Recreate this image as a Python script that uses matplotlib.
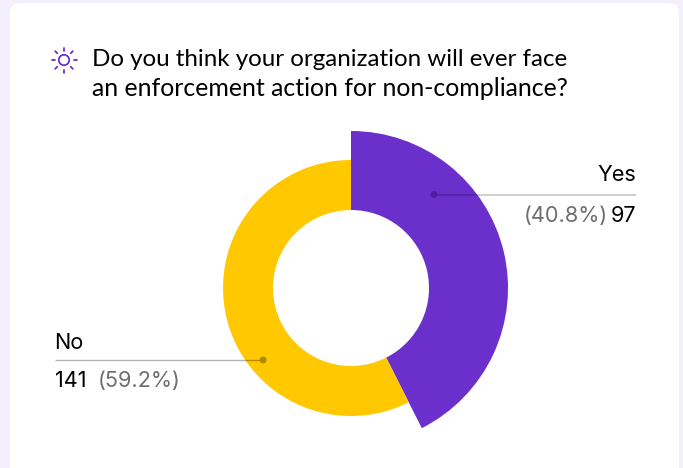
import matplotlib
matplotlib.use('Agg')
import matplotlib.pyplot as plt
from matplotlib.patches import FancyBboxPatch, Circle
import numpy as np

categories = ['Yes', 'No']
counts = [97, 141]
percent_labels = ['(40.8%)', '(59.2%)']
# share of the ring as it is drawn in the picture, in degrees
drawn_degrees = [153.2, 206.8]
colors = ['#6B2FCB', '#FFC800']
title_lines = ['Do you think your organization will ever face',
               'an enforcement action for non-compliance?']

W, H = 683, 468
fig = plt.figure(figsize=(W / 100, H / 100), dpi=100, facecolor='#F4EFFC')
ax = fig.add_axes([0, 0, 1, 1])

def Y(py):
    return H - py

# white card
card = FancyBboxPatch((10, -30), 669, Y(3) + 30, boxstyle='round,pad=0,rounding_size=10',
                      fc='white', ec='none', zorder=1)
ax.add_patch(card)

# ring, each slice has its own outer radius
cx, cy = 351, Y(288)
hole = 78
for i, radius in enumerate([157, 128]):
    face = ['none', 'none']
    face[i] = colors[i]
    wedges, _ = ax.pie(drawn_degrees, center=(cx, cy), radius=radius, startangle=90,
                       counterclock=False, colors=face,
                       wedgeprops=dict(width=radius - hole, linewidth=0))
    for w in wedges:
        w.set_zorder(2)
ax.set_aspect('auto')
ax.set_xlim(0, W)
ax.set_ylim(0, H)
ax.axis('off')

# leader lines
ax.plot([434, 636], [Y(194.5)] * 2, color='#000000', alpha=0.22, lw=1.2, zorder=3, solid_capstyle='butt')
ax.plot([263, 55], [Y(360)] * 2, color='#000000', alpha=0.3, lw=1.0, zorder=3, solid_capstyle='butt')
ax.add_patch(Circle((434, Y(194.5)), 3.5, fc='#4F1F9E', ec='none', zorder=4))
ax.add_patch(Circle((263, Y(360)), 3.5, fc='#B08A00', ec='none', zorder=4))

# labels
font = 'Inter'
size = 15.6
ax.text(636, Y(175), categories[0], ha='right', va='center', fontsize=size, family=font, color='black', zorder=5)
ax.text(636, Y(216), str(counts[0]), ha='right', va='center', fontsize=size, family=font, color='black', zorder=5)
ax.text(607.5, Y(216), percent_labels[0], ha='right', va='center', fontsize=size, family=font, color='#6E6E6E', zorder=5)
ax.text(54, Y(343), categories[1], ha='left', va='center', fontsize=size, family=font, color='black', zorder=5)
ax.text(55, Y(381), str(counts[1]), ha='left', va='center', fontsize=size, family=font, color='black', zorder=5)
ax.text(98, Y(381), percent_labels[1], ha='left', va='center', fontsize=size, family=font, color='#6E6E6E', zorder=5)

# title, sizes differ a bit because the original font is not installed
ax.text(92.5, Y(60), title_lines[0], ha='left', va='center', fontsize=17.4, family='Lato', color='black', zorder=5)
ax.text(92.5, Y(89), title_lines[1], ha='left', va='center', fontsize=17.95, family='Lato', color='black', zorder=5)

# sun icon
ix, iy = 64, Y(60)
ax.add_patch(Circle((ix, iy), 5.2, fc='none', ec='#6B2FCB', lw=1.3, zorder=5))
for a in np.arange(0, 360, 45):
    ca, sa = np.cos(np.radians(a)), np.sin(np.radians(a))
    ax.plot([ix + 9.5 * ca, ix + 12.5 * ca], [iy + 9.5 * sa, iy + 12.5 * sa],
            color='#6B2FCB', lw=1.3, solid_capstyle='round', zorder=5)

fig.savefig('out.png', dpi=100, facecolor=fig.get_facecolor())
